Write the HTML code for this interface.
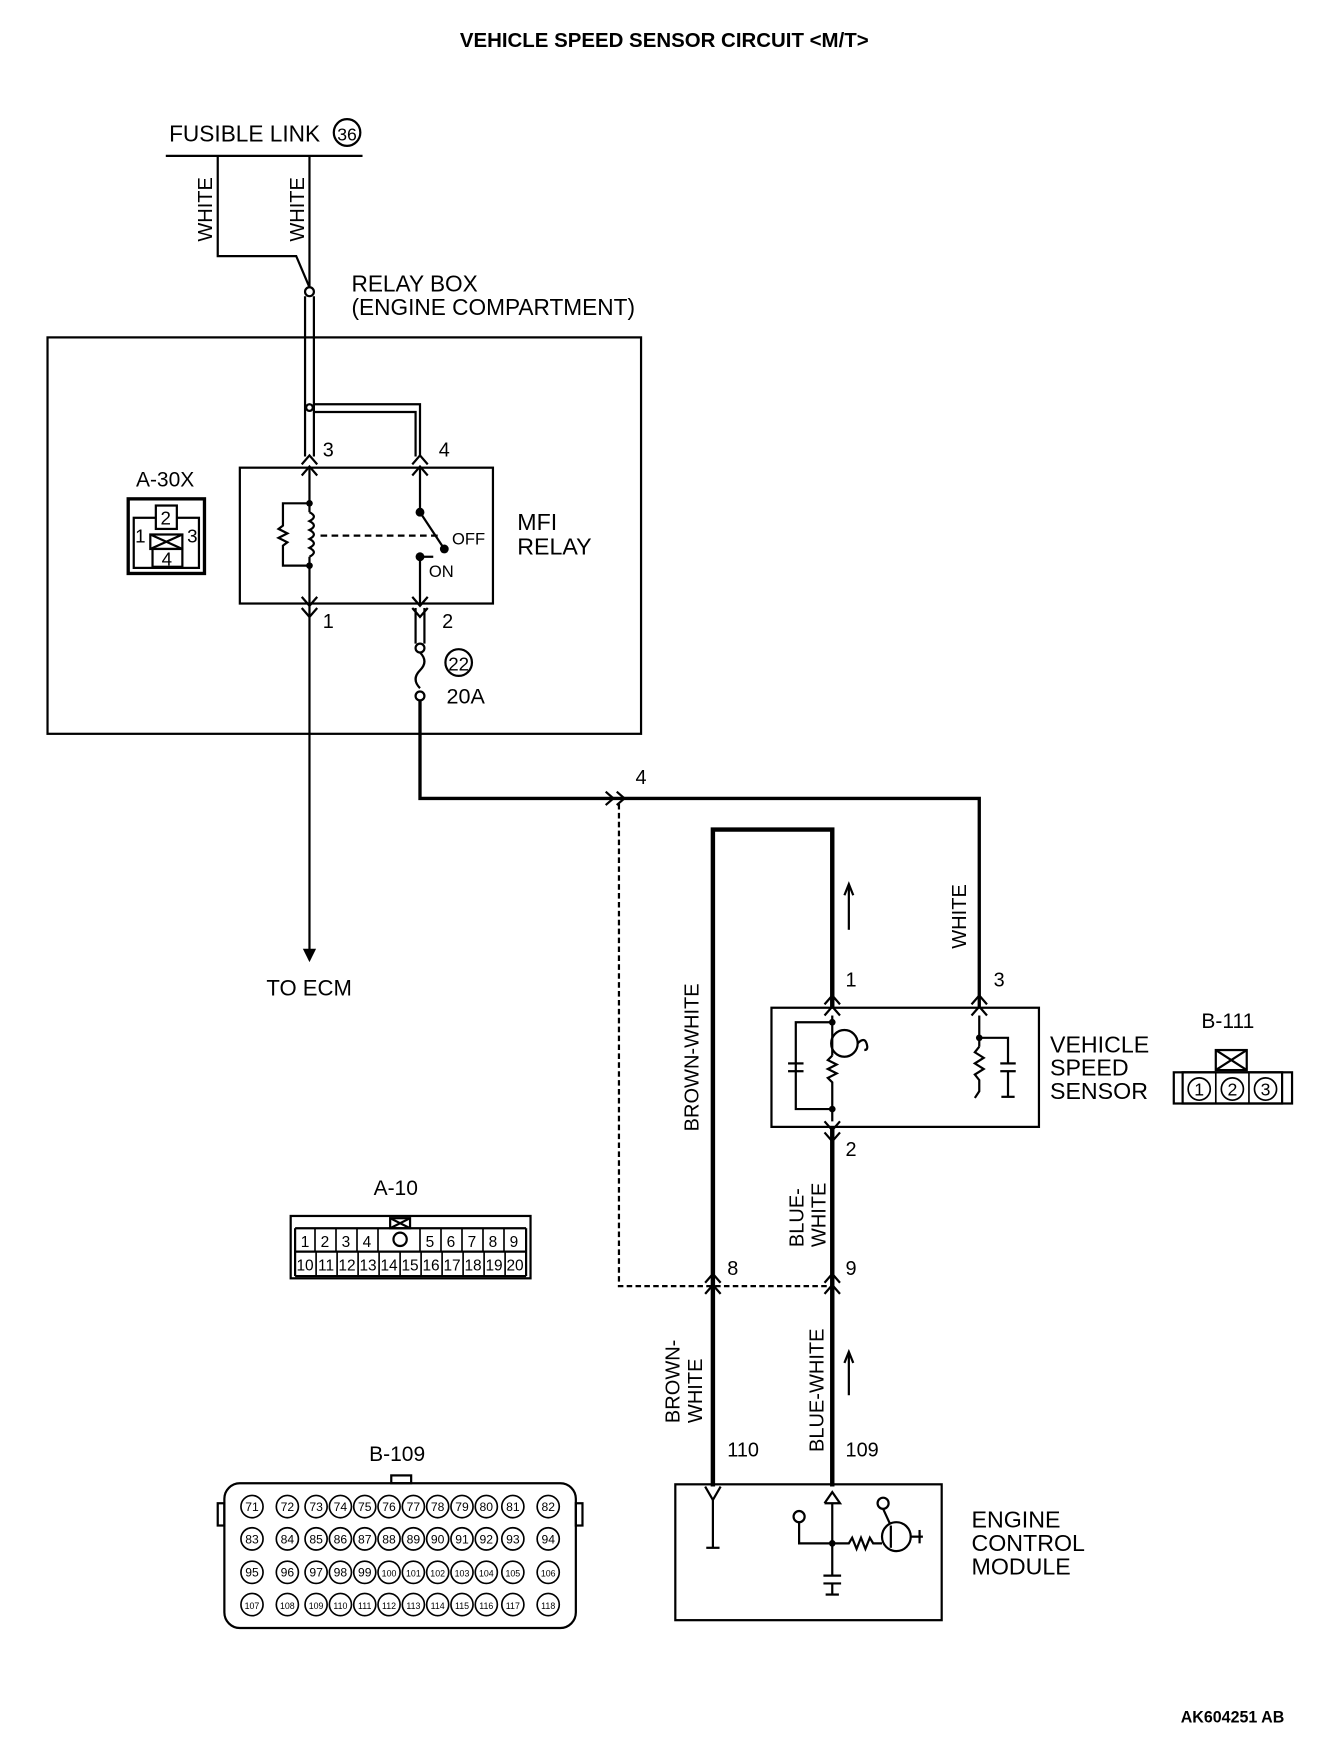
<!DOCTYPE html>
<html><head><meta charset="utf-8"><style>
html,body{margin:0;padding:0;background:#fff;}
svg{display:block;}
text{font-family:"Liberation Sans",sans-serif;fill:#000;}
</style></head><body>
<svg width="1344" height="1746" viewBox="0 0 1216 1568" preserveAspectRatio="none" xmlns="http://www.w3.org/2000/svg">
<g stroke="#000" fill="none" stroke-width="2">
<line x1="150" y1="140" x2="328" y2="140"/>
<circle cx="314" cy="119" r="12"/>
<polyline points="197,140 197,230 268,230 280,258"/>
<line x1="280" y1="140" x2="280" y2="258"/>
<circle cx="280" cy="262" r="4"/>
<line x1="276" y1="266" x2="276" y2="410"/><line x1="284" y1="266" x2="284" y2="410"/>
<polyline points="284,363 380,363 380,410"/><polyline points="284,370 376,370 376,410"/>
<circle cx="280" cy="366" r="3"/>
<rect x="43" y="303" width="537" height="356"/>
<rect x="217" y="420" width="229" height="122"/>
<polyline points="273,417 280,409 287,417"/><polyline points="273,427 280,419 287,427"/>
<polyline points="373,417 380,409 387,417"/><polyline points="373,427 380,419 387,427"/>
<polyline points="273,536 280,544 287,536"/><polyline points="273,546 280,554 287,546"/>
<polyline points="373,536 380,544 387,536"/><polyline points="373,546 380,554 387,546"/>
<line x1="280" y1="420" x2="280" y2="460"/>
<path d="M280,460 q8,4 0,8 q8,4 0,8 q8,4 0,8 q8,4 0,8 q8,4 0,8"/>
<line x1="280" y1="500" x2="280" y2="542"/>
<polyline points="280,452 256,452 256,472 252,475 260,479 252,483 260,487 256,490 256,508 280,508"/>
<line x1="290" y1="481" x2="400" y2="481" stroke-dasharray="6,4"/>
<line x1="380" y1="420" x2="380" y2="460"/>
<line x1="380" y1="460" x2="402" y2="493"/>
<line x1="380" y1="500" x2="380" y2="542"/>
<line x1="380" y1="500" x2="392" y2="500"/>
<rect x="116" y="448" width="69" height="67" stroke-width="3"/>
<rect x="121" y="465" width="59" height="45"/>
<rect x="141" y="454" width="19" height="21" fill="#fff"/>
<rect x="136" y="480" width="29" height="13" fill="#fff"/>
<line x1="136" y1="480" x2="165" y2="493"/><line x1="165" y1="480" x2="136" y2="493"/>
<rect x="138" y="493" width="27" height="16" fill="#fff"/>
<line x1="280" y1="542" x2="280" y2="855"/>
<line x1="376" y1="546" x2="376" y2="578"/><line x1="384" y1="546" x2="384" y2="578"/>
<circle cx="380" cy="582" r="4"/>
<path d="M380,586 q8,8 0,16 q-8,8 0,16"/>
<circle cx="380" cy="625" r="4"/>
<circle cx="415" cy="595" r="12"/>
<polyline points="380,629 380,717 886,717 886,905" stroke-width="3"/>
<polyline points="548,711 555,717 548,723" /><polyline points="558,711 565,717 558,723"/>
<polyline points="560,722 560,1155 750,1155" stroke-dasharray="5,3"/>
<polyline points="645,1335 645,745 753,745 753,905" stroke-width="4"/>
<line x1="753" y1="1012" x2="753" y2="1335" stroke-width="4"/>
<line x1="768" y1="835" x2="768" y2="796"/>
<polyline points="764,804 768,794 772,804"/>
<line x1="768" y1="1253" x2="768" y2="1216"/>
<polyline points="764,1224 768,1214 772,1224"/>
<rect x="698" y="905" width="242" height="107"/>
<polyline points="746,902 753,894 760,902"/><polyline points="746,912 753,904 760,912"/>
<polyline points="879,902 886,894 893,902"/><polyline points="879,912 886,904 893,912"/>
<polyline points="746,1007 753,1015 760,1007"/><polyline points="746,1017 753,1025 760,1017"/>
<polyline points="638,1152 645,1144 652,1152"/><polyline points="638,1162 645,1154 652,1162"/>
<polyline points="746,1152 753,1144 760,1152"/><polyline points="746,1162 753,1154 760,1162"/>
<line x1="753" y1="912" x2="753" y2="948"/>
<polyline points="753,948 749,952 757,956 749,960 757,964 749,968 753,972 753,1007"/>
<circle cx="764" cy="937" r="12"/>
<path d="M776,937 q6,-6 8,0 q2,6 -2,6"/>
<polyline points="753,918 720,918 720,996 753,996"/>
<line x1="713" y1="955" x2="727" y2="955"/><line x1="713" y1="962" x2="727" y2="962"/>
<line x1="886" y1="912" x2="886" y2="940"/>
<polyline points="886,940 882,945 890,950 882,955 890,960 882,965 886,970 886,980 882,986"/>
<polyline points="886,932 912,932 912,955"/>
<line x1="905" y1="955" x2="919" y2="955"/><line x1="905" y1="962" x2="919" y2="962"/>
<line x1="912" y1="962" x2="912" y2="985"/>
<line x1="906" y1="985" x2="918" y2="985"/>
<rect x="611" y="1333" width="241" height="122"/>
<polyline points="638,1335 645,1347 652,1335"/>
<line x1="645" y1="1347" x2="645" y2="1390"/>
<line x1="639" y1="1390" x2="651" y2="1390"/>
<polyline points="746,1350 753,1340 760,1350 746,1350"/>
<line x1="753" y1="1350" x2="753" y2="1415"/>
<line x1="745" y1="1415" x2="761" y2="1415"/><line x1="745" y1="1422" x2="761" y2="1422"/>
<line x1="753" y1="1422" x2="753" y2="1432"/>
<line x1="747" y1="1432" x2="759" y2="1432"/>
<circle cx="723" cy="1362" r="5"/><polyline points="723,1367 723,1386 768,1386 771,1381 775,1391 779,1381 783,1391 787,1381 790,1386 798,1386"/>
<circle cx="811" cy="1380" r="13"/>
<line x1="806" y1="1370" x2="806" y2="1390"/>
<circle cx="799" cy="1350" r="5"/><line x1="799" y1="1355" x2="805" y2="1368"/>
<line x1="824" y1="1380" x2="835" y2="1380"/>
<line x1="832" y1="1374" x2="832" y2="1386"/>
<rect x="263" y="1092" width="217" height="56"/>
<line x1="267" y1="1103" x2="476" y2="1103"/><line x1="267" y1="1124" x2="476" y2="1124"/><line x1="267" y1="1146" x2="476" y2="1146"/>
<line x1="267" y1="1103" x2="267" y2="1146"/><line x1="476" y1="1103" x2="476" y2="1146"/>
<rect x="353" y="1094" width="18" height="9"/><line x1="353" y1="1094" x2="371" y2="1103"/><line x1="371" y1="1094" x2="353" y2="1103"/>
<circle cx="362" cy="1113" r="6"/>
<rect x="1062" y="963" width="107" height="28"/>
<rect x="1070" y="963" width="90" height="28"/>
<rect x="1100" y="943" width="28" height="18"/><line x1="1100" y1="943" x2="1128" y2="961"/><line x1="1128" y1="943" x2="1100" y2="961"/>
<rect x="203" y="1332" width="318" height="130" rx="14"/>
<rect x="197" y="1350" width="6" height="20"/><rect x="521" y="1350" width="6" height="20"/>
<rect x="354" y="1325" width="18" height="7"/>
</g>
<g fill="#000">
<circle cx="280" cy="452" r="3"/><circle cx="280" cy="508" r="3"/>
<circle cx="380" cy="460" r="4"/><circle cx="402" cy="493" r="4"/><circle cx="380" cy="500" r="4"/>
<circle cx="753" cy="918" r="3"/><circle cx="753" cy="996" r="3"/><circle cx="886" cy="932" r="3"/>
<circle cx="753" cy="1386" r="3"/>
<polygon points="274,852 286,852 280,864"/>
</g>
<text x="601" y="42" font-size="18.5" font-weight="bold" text-anchor="middle">VEHICLE SPEED SENSOR CIRCUIT &lt;M/T&gt;</text>
<text x="153" y="127" font-size="20.5">FUSIBLE LINK</text>
<text x="314" y="126" font-size="16" text-anchor="middle">36</text>
<text transform="translate(192,217) rotate(-90)" font-size="18">WHITE</text>
<text transform="translate(275,217) rotate(-90)" font-size="18">WHITE</text>
<text x="318" y="262" font-size="20.5">RELAY BOX</text>
<text x="318" y="283" font-size="20.5">(ENGINE COMPARTMENT)</text>
<text x="292" y="410" font-size="18">3</text><text x="397" y="410" font-size="18">4</text>
<text x="292" y="564" font-size="18">1</text><text x="400" y="564" font-size="18">2</text>
<text x="409" y="489" font-size="15">OFF</text><text x="388" y="518" font-size="15">ON</text>
<text x="468" y="476" font-size="21">MFI</text><text x="468" y="498" font-size="21">RELAY</text>
<text x="123" y="437" font-size="19">A-30X</text>
<text x="150" y="471" font-size="17" text-anchor="middle">2</text>
<text x="127" y="487" font-size="17" text-anchor="middle">1</text>
<text x="174" y="487" font-size="17" text-anchor="middle">3</text>
<text x="151" y="508" font-size="17" text-anchor="middle">4</text>
<text x="415" y="602" font-size="17" text-anchor="middle">22</text>
<text x="404" y="632" font-size="19.5">20A</text>
<text x="241" y="894" font-size="20">TO ECM</text>
<text x="575" y="704" font-size="18">4</text>
<text transform="translate(874,852) rotate(-90)" font-size="18">WHITE</text>
<text transform="translate(632,1016) rotate(-90)" font-size="18">BROWN-WHITE</text>
<text x="765" y="886" font-size="18">1</text><text x="899" y="886" font-size="18">3</text>
<text x="950" y="945" font-size="21">VEHICLE</text><text x="950" y="966" font-size="21">SPEED</text><text x="950" y="987" font-size="21">SENSOR</text>
<text x="1087" y="923" font-size="19">B-111</text>
<text x="1085" y="984" font-size="16" text-anchor="middle">1</text><text x="1115" y="984" font-size="16" text-anchor="middle">2</text><text x="1145" y="984" font-size="16" text-anchor="middle">3</text>
<text x="765" y="1038" font-size="18">2</text>
<text transform="translate(727,1120) rotate(-90)" font-size="18">BLUE-</text>
<text transform="translate(747,1120) rotate(-90)" font-size="18">WHITE</text>
<text x="658" y="1145" font-size="18">8</text><text x="765" y="1145" font-size="18">9</text>
<text transform="translate(615,1278) rotate(-90)" font-size="18">BROWN-</text>
<text transform="translate(635,1278) rotate(-90)" font-size="18">WHITE</text>
<text transform="translate(745,1304) rotate(-90)" font-size="18">BLUE-WHITE</text>
<text x="658" y="1308" font-size="18">110</text><text x="765" y="1308" font-size="18">109</text>
<text x="879" y="1372" font-size="21">ENGINE</text><text x="879" y="1393" font-size="21">CONTROL</text><text x="879" y="1414" font-size="21">MODULE</text>
<text x="338" y="1073" font-size="19">A-10</text>
<g font-size="14" text-anchor="middle">
<text x="276" y="1120">1</text><text x="294" y="1120">2</text><text x="313" y="1120">3</text><text x="332" y="1120">4</text>
<text x="389" y="1120">5</text><text x="408" y="1120">6</text><text x="427" y="1120">7</text><text x="446" y="1120">8</text><text x="465" y="1120">9</text>
<text x="276" y="1141">10</text><text x="295" y="1141">11</text><text x="314" y="1141">12</text><text x="333" y="1141">13</text><text x="352" y="1141">14</text><text x="371" y="1141">15</text><text x="390" y="1141">16</text><text x="409" y="1141">17</text><text x="428" y="1141">18</text><text x="447" y="1141">19</text><text x="466" y="1141">20</text>
</g>
<g stroke="#000" stroke-width="1.5">
<line x1="285" y1="1103" x2="285" y2="1124"/><line x1="304" y1="1103" x2="304" y2="1124"/><line x1="323" y1="1103" x2="323" y2="1124"/><line x1="342" y1="1103" x2="342" y2="1124"/>
<line x1="380" y1="1103" x2="380" y2="1124"/><line x1="399" y1="1103" x2="399" y2="1124"/><line x1="418" y1="1103" x2="418" y2="1124"/><line x1="437" y1="1103" x2="437" y2="1124"/><line x1="456" y1="1103" x2="456" y2="1124"/>
<line x1="286" y1="1124" x2="286" y2="1146"/><line x1="305" y1="1124" x2="305" y2="1146"/><line x1="324" y1="1124" x2="324" y2="1146"/><line x1="343" y1="1124" x2="343" y2="1146"/><line x1="362" y1="1124" x2="362" y2="1146"/><line x1="381" y1="1124" x2="381" y2="1146"/><line x1="400" y1="1124" x2="400" y2="1146"/><line x1="419" y1="1124" x2="419" y2="1146"/><line x1="438" y1="1124" x2="438" y2="1146"/><line x1="457" y1="1124" x2="457" y2="1146"/>
<line x1="1100" y1="963" x2="1100" y2="991"/><line x1="1130" y1="963" x2="1130" y2="991"/>
</g>
<g fill="none" stroke="#000" stroke-width="1.5">
<circle cx="1085" cy="978" r="10"/><circle cx="1115" cy="978" r="10"/><circle cx="1145" cy="978" r="10"/>
</g>
<text x="334" y="1312" font-size="19">B-109</text>
<g fill="none" stroke="#000" stroke-width="1.5">
<circle cx="228" cy="1353" r="10"/><circle cx="260" cy="1353" r="10"/><circle cx="286" cy="1353" r="10"/><circle cx="308" cy="1353" r="10"/><circle cx="330" cy="1353" r="10"/><circle cx="352" cy="1353" r="10"/><circle cx="374" cy="1353" r="10"/><circle cx="396" cy="1353" r="10"/><circle cx="418" cy="1353" r="10"/><circle cx="440" cy="1353" r="10"/><circle cx="464" cy="1353" r="10"/><circle cx="496" cy="1353" r="10"/>
<circle cx="228" cy="1382" r="10"/><circle cx="260" cy="1382" r="10"/><circle cx="286" cy="1382" r="10"/><circle cx="308" cy="1382" r="10"/><circle cx="330" cy="1382" r="10"/><circle cx="352" cy="1382" r="10"/><circle cx="374" cy="1382" r="10"/><circle cx="396" cy="1382" r="10"/><circle cx="418" cy="1382" r="10"/><circle cx="440" cy="1382" r="10"/><circle cx="464" cy="1382" r="10"/><circle cx="496" cy="1382" r="10"/>
<circle cx="228" cy="1412" r="10"/><circle cx="260" cy="1412" r="10"/><circle cx="286" cy="1412" r="10"/><circle cx="308" cy="1412" r="10"/><circle cx="330" cy="1412" r="10"/><circle cx="352" cy="1412" r="10"/><circle cx="374" cy="1412" r="10"/><circle cx="396" cy="1412" r="10"/><circle cx="418" cy="1412" r="10"/><circle cx="440" cy="1412" r="10"/><circle cx="464" cy="1412" r="10"/><circle cx="496" cy="1412" r="10"/>
<circle cx="228" cy="1441" r="10"/><circle cx="260" cy="1441" r="10"/><circle cx="286" cy="1441" r="10"/><circle cx="308" cy="1441" r="10"/><circle cx="330" cy="1441" r="10"/><circle cx="352" cy="1441" r="10"/><circle cx="374" cy="1441" r="10"/><circle cx="396" cy="1441" r="10"/><circle cx="418" cy="1441" r="10"/><circle cx="440" cy="1441" r="10"/><circle cx="464" cy="1441" r="10"/><circle cx="496" cy="1441" r="10"/>
</g>
<g font-size="11" text-anchor="middle">
<text x="228" y="1357">71</text><text x="260" y="1357">72</text><text x="286" y="1357">73</text><text x="308" y="1357">74</text><text x="330" y="1357">75</text><text x="352" y="1357">76</text><text x="374" y="1357">77</text><text x="396" y="1357">78</text><text x="418" y="1357">79</text><text x="440" y="1357">80</text><text x="464" y="1357">81</text><text x="496" y="1357">82</text>
<text x="228" y="1386">83</text><text x="260" y="1386">84</text><text x="286" y="1386">85</text><text x="308" y="1386">86</text><text x="330" y="1386">87</text><text x="352" y="1386">88</text><text x="374" y="1386">89</text><text x="396" y="1386">90</text><text x="418" y="1386">91</text><text x="440" y="1386">92</text><text x="464" y="1386">93</text><text x="496" y="1386">94</text>
<text x="228" y="1416">95</text><text x="260" y="1416">96</text><text x="286" y="1416">97</text><text x="308" y="1416">98</text><text x="330" y="1416">99</text><text x="352" y="1416" font-size="8">100</text><text x="374" y="1416" font-size="8">101</text><text x="396" y="1416" font-size="8">102</text><text x="418" y="1416" font-size="8">103</text><text x="440" y="1416" font-size="8">104</text><text x="464" y="1416" font-size="8">105</text><text x="496" y="1416" font-size="8">106</text>
<text x="228" y="1445" font-size="8">107</text><text x="260" y="1445" font-size="8">108</text><text x="286" y="1445" font-size="8">109</text><text x="308" y="1445" font-size="8">110</text><text x="330" y="1445" font-size="8">111</text><text x="352" y="1445" font-size="8">112</text><text x="374" y="1445" font-size="8">113</text><text x="396" y="1445" font-size="8">114</text><text x="418" y="1445" font-size="8">115</text><text x="440" y="1445" font-size="8">116</text><text x="464" y="1445" font-size="8">117</text><text x="496" y="1445" font-size="8">118</text>
</g>
<text x="1162" y="1547" font-size="14.5" font-weight="bold" text-anchor="end">AK604251 AB</text>
</svg>
</body></html>
